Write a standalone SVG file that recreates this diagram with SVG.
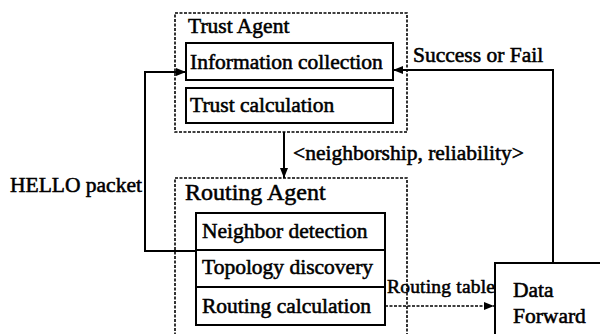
<svg xmlns="http://www.w3.org/2000/svg" width="600" height="334" viewBox="0 0 600 334">
<style>
text{font-family:"Liberation Serif","Times New Roman",serif;font-size:21.5px;fill:#000;stroke:#000;stroke-width:0.55}
.big{font-size:24px}
.box{fill:none;stroke:#000;stroke-width:2}
.agent{fill:none;stroke:#000;stroke-width:1.6;stroke-dasharray:3 1.5}
.ln{fill:none;stroke:#000;stroke-width:2}
.dl{fill:none;stroke:#000;stroke-width:1.6;stroke-dasharray:3 1.5}
</style>
<defs>
<marker id="ah" markerWidth="10" markerHeight="8" refX="10" refY="4" orient="auto" markerUnits="userSpaceOnUse">
<path d="M0,0 L10,4 L0,8 Z" fill="#000"/>
</marker>
</defs>
<rect width="600" height="334" fill="#fff"/>
<g id="trust-agent">
<rect class="agent" x="175" y="13" width="232" height="119"/>
<text x="188" y="33">Trust Agent</text>
</g>
<g id="info-collection">
<rect class="box" x="186" y="43" width="207" height="37"/>
<text x="190" y="69">Information collection</text>
</g>
<g id="trust-calculation">
<rect class="box" x="186" y="88" width="207" height="35"/>
<text x="190" y="112">Trust calculation</text>
</g>
<g id="routing-agent">
<path class="agent" d="M175,340 V178 H407 V340"/>
<text class="big" x="185" y="200">Routing Agent</text>
</g>
<g id="neighbor-detection">
<rect class="box" x="196" y="213" width="189" height="37"/>
<text x="202" y="238">Neighbor detection</text>
</g>
<g id="topology-discovery">
<rect class="box" x="196" y="250" width="189" height="37"/>
<text x="202" y="274">Topology discovery</text>
</g>
<g id="routing-calculation">
<rect class="box" x="196" y="287" width="189" height="38"/>
<text x="202" y="313">Routing calculation</text>
</g>
<g id="data-forward">
<rect class="box" x="495" y="263" width="120" height="90"/>
<text x="513" y="297">Data</text>
<text x="513" y="323">Forward</text>
</g>
<g id="connectors">
<path class="ln" d="M196,251 H145 V72 H186" marker-end="url(#ah)"/>
<text x="10" y="192">HELLO packet</text>
<path class="ln" d="M553,263 V70 H393" marker-end="url(#ah)"/>
<text x="413" y="62">Success or Fail</text>
<path class="ln" d="M284,132 V178" marker-end="url(#ah)"/>
<text x="293" y="160">&lt;neighborship, reliability&gt;</text>
<path class="dl" d="M385,306 H494" marker-end="url(#ah)"/>
<text x="387" y="293" style="font-size:19.5px;letter-spacing:0.2px">Routing table</text>
</g>
</svg>
